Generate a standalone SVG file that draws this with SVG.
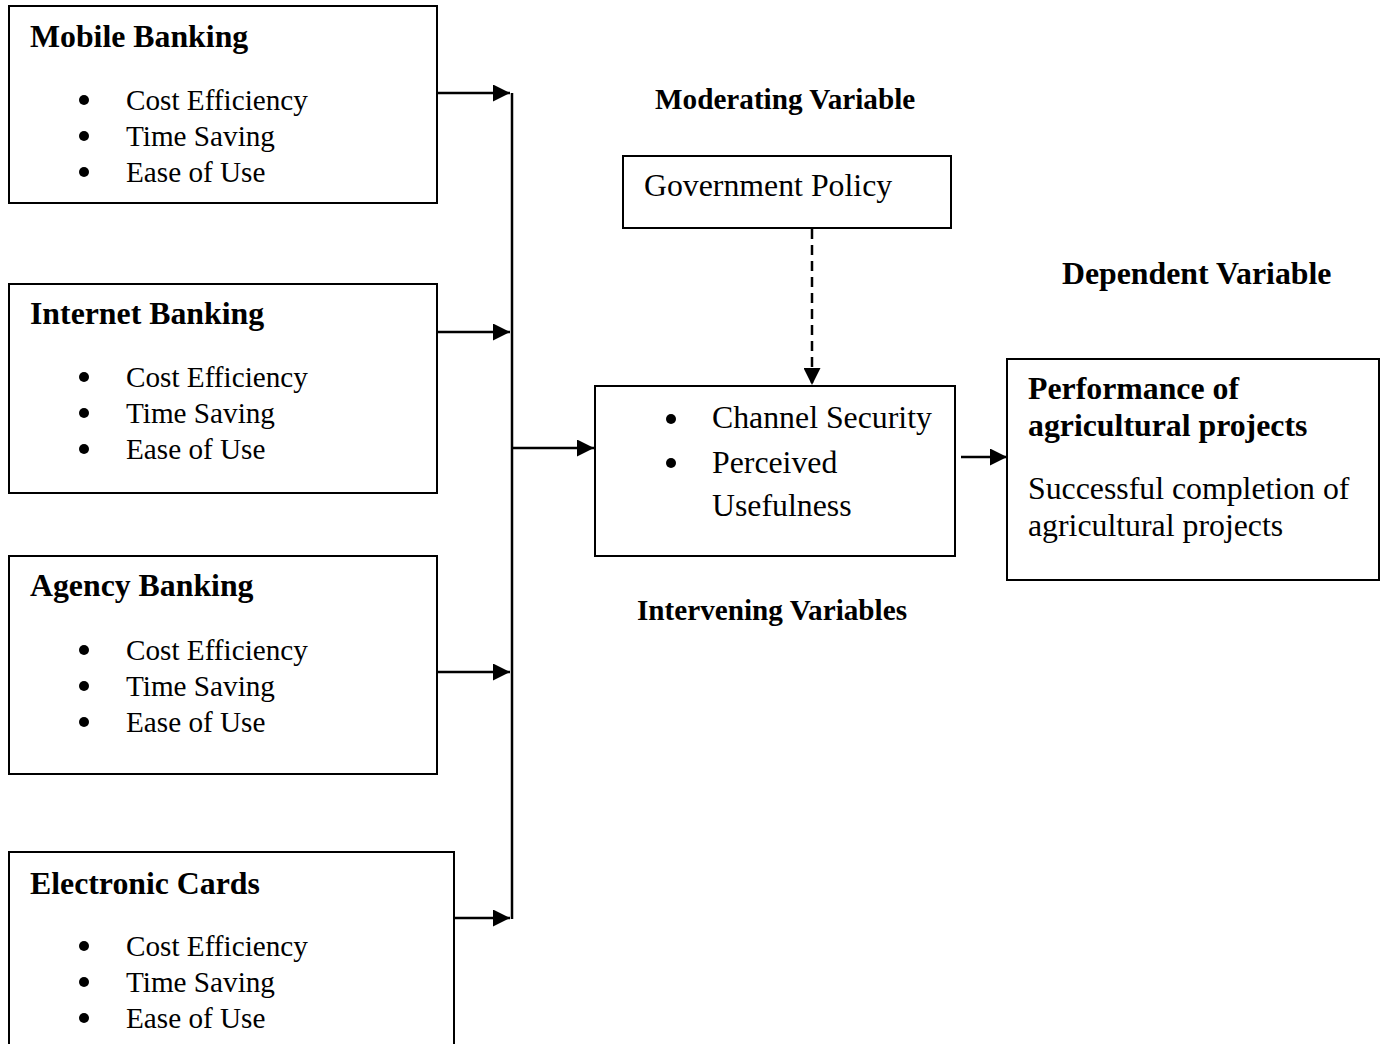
<svg xmlns="http://www.w3.org/2000/svg" width="1385" height="1044" viewBox="0 0 1385 1044">
<style>
.box{fill:#fff;stroke:#000;stroke-width:2}
.h{font-family:"Liberation Serif","Times New Roman",serif;font-weight:bold;font-size:31.8px;fill:#000}
.lbl{font-family:"Liberation Serif","Times New Roman",serif;font-weight:bold;font-size:29.2px;fill:#000}
.t{font-family:"Liberation Serif","Times New Roman",serif;font-size:31.8px;fill:#000}
.i{font-family:"Liberation Serif","Times New Roman",serif;font-size:29.2px;fill:#000}
.con{stroke:#000;stroke-width:2.5;fill:none}
.dash{stroke:#000;stroke-width:2.5;fill:none;stroke-dasharray:10,6}
</style>
<defs>
<marker id="ah" markerUnits="userSpaceOnUse" markerWidth="17" markerHeight="17" refX="17" refY="8.5" orient="auto">
<path d="M0,0 L17,8.5 L0,17 z" fill="#000"/>
</marker>
<symbol id="b3" overflow="visible">
<circle cx="0" cy="0" r="5" fill="#000"/>
<circle cx="0" cy="36" r="5" fill="#000"/>
<circle cx="0" cy="72" r="5" fill="#000"/>
</symbol>
</defs>

<g id="mobile-banking">
<rect class="box" x="9" y="6" width="428" height="197"/>
<text class="h" x="30" y="47">Mobile Banking</text>
<use href="#b3" x="84" y="100"/>
<text class="i" x="126" y="110">Cost Efficiency</text>
<text class="i" x="126" y="146">Time Saving</text>
<text class="i" x="126" y="182">Ease of Use</text>
</g>

<g id="internet-banking">
<rect class="box" x="9" y="284" width="428" height="209"/>
<text class="h" x="30" y="324">Internet Banking</text>
<use href="#b3" x="84" y="377"/>
<text class="i" x="126" y="387">Cost Efficiency</text>
<text class="i" x="126" y="423">Time Saving</text>
<text class="i" x="126" y="459">Ease of Use</text>
</g>

<g id="agency-banking">
<rect class="box" x="9" y="556" width="428" height="218"/>
<text class="h" x="30" y="596">Agency Banking</text>
<use href="#b3" x="84" y="650"/>
<text class="i" x="126" y="660">Cost Efficiency</text>
<text class="i" x="126" y="696">Time Saving</text>
<text class="i" x="126" y="732">Ease of Use</text>
</g>

<g id="electronic-cards">
<rect class="box" x="9" y="852" width="445" height="220"/>
<text class="h" x="30" y="894">Electronic Cards</text>
<use href="#b3" x="84" y="946"/>
<text class="i" x="126" y="956">Cost Efficiency</text>
<text class="i" x="126" y="992">Time Saving</text>
<text class="i" x="126" y="1028">Ease of Use</text>
</g>

<g id="moderating-label">
<text class="lbl" x="655" y="109">Moderating Variable</text>
</g>

<g id="government-policy">
<rect class="box" x="623" y="156" width="328" height="72"/>
<text class="t" x="644" y="196">Government Policy</text>
</g>

<g id="intervening">
<rect class="box" x="595" y="386" width="360" height="170"/>
<circle cx="671" cy="419" r="5" fill="#000"/>
<circle cx="671" cy="463" r="5" fill="#000"/>
<text class="t" x="712" y="428">Channel Security</text>
<text class="t" x="712" y="473">Perceived</text>
<text class="t" x="712" y="516">Usefulness</text>
</g>

<g id="intervening-label">
<text class="lbl" x="637" y="620">Intervening Variables</text>
</g>

<g id="dependent-label">
<text class="h" x="1062" y="284">Dependent Variable</text>
</g>

<g id="performance">
<rect class="box" x="1007" y="359" width="372" height="221"/>
<text class="h" x="1028" y="399">Performance of</text>
<text class="h" x="1028" y="436">agricultural projects</text>
<text class="t" x="1028" y="499">Successful completion of</text>
<text class="t" x="1028" y="536">agricultural projects</text>
</g>

<g id="connectors">
<line class="con" x1="437" y1="93" x2="510" y2="93" marker-end="url(#ah)"/>
<line class="con" x1="437" y1="332" x2="510" y2="332" marker-end="url(#ah)"/>
<line class="con" x1="437" y1="672" x2="510" y2="672" marker-end="url(#ah)"/>
<line class="con" x1="454" y1="918" x2="510" y2="918" marker-end="url(#ah)"/>
<line class="con" x1="512" y1="93" x2="512" y2="919"/>
<line class="con" x1="512" y1="448" x2="594" y2="448" marker-end="url(#ah)"/>
<line class="dash" x1="812" y1="229" x2="812" y2="385" marker-end="url(#ah)"/>
<line class="con" x1="961" y1="457" x2="1007" y2="457" marker-end="url(#ah)"/>
</g>
</svg>
